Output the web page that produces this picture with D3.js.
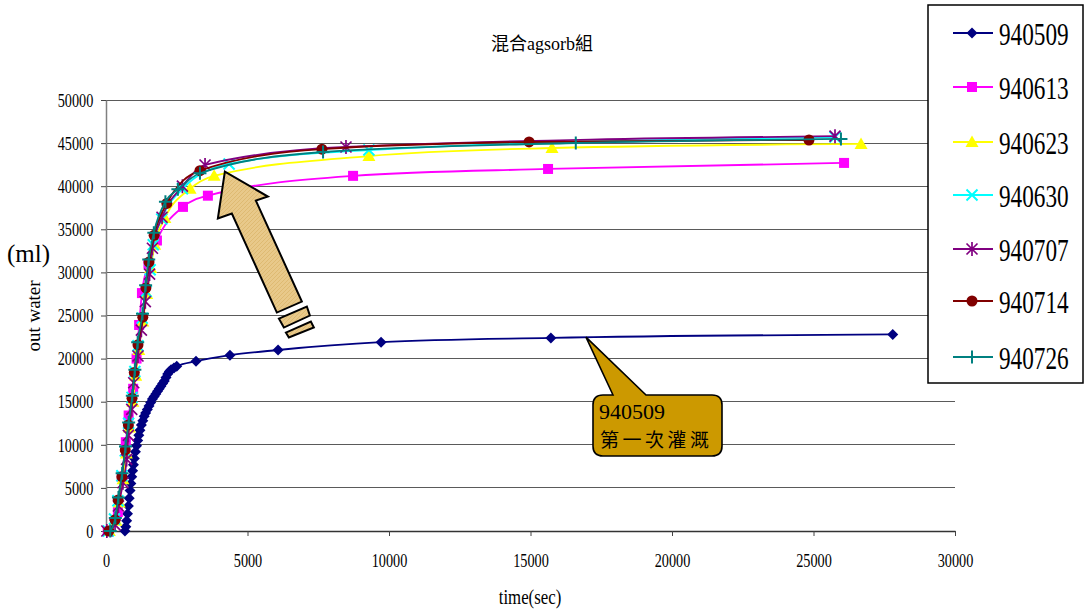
<!DOCTYPE html>
<html>
<head>
<meta charset="utf-8">
<script src="https://cdn.jsdelivr.net/npm/d3@7"></script>
<style>
html,body{margin:0;padding:0;background:#fff;}
svg{display:block;}
</style>
</head>
<body>
<svg id="chart" width="1088" height="611"></svg>
<script>
// ---------------- DATA ----------------
const chartTitle = "混合agsorb組";
const xTicks = [0, 5000, 10000, 15000, 20000, 25000, 30000];
const yTicks = [0, 5000, 10000, 15000, 20000, 25000, 30000, 35000, 40000, 45000, 50000];
const seriesNames = ["940509", "940613", "940623", "940630", "940707", "940714", "940726"];

const t940509 = [670,700,730,760,790,820,850,880,910,940,970,1000,1040,1080,1120,1160,1200,1250,1300,1350,1400,1460,1520,1580,1640,1700,1760,1820,1880,1940,2000,2060,2120,2180,2240,2300,2400,2500,3180,4380,6080,9720,15720,27800];
const v940509 = [0,500,1200,2000,2900,3800,4700,5500,6300,7000,7700,8400,9200,9900,10500,11100,11700,12300,12800,13300,13700,14100,14500,14900,15300,15600,15900,16200,16500,16800,17100,17400,17800,18200,18500,18700,18900,19100,19700,20400,21000,21900,22400,22800];

const t940613 = [60,420,560,700,800,960,1080,1170,1270,1500,1800,2720,3600,8730,15620,26080];
const v940613 = [0,2200,6300,10300,13400,16500,20000,23900,27600,31000,33700,37600,38900,41200,42000,42700];

const t940623 = [120,350,470,600,720,830,950,1050,1160,1300,1440,1580,1720,2080,2970,3820,9290,15760,26680];
const v940623 = [0,1200,3300,6000,9000,12000,15000,18000,21000,24300,27500,30500,33200,36300,39700,41200,43500,44430,44900];

const t940630 = [80,300,420,560,680,800,920,1020,1130,1280,1420,1560,1670,1970,2700,4350,9290,25760];
const v940630 = [0,1400,3500,6400,9300,12500,15500,18500,21500,24700,27800,30300,33200,36200,39700,42580,44200,45700];

const t940707 = [30,320,440,600,730,790,910,980,1130,1250,1390,1540,1640,1980,2700,3500,8480,25760];
const v940707 = [0,700,2900,5600,8300,11100,14100,17200,20300,23300,26600,29800,32800,36400,40000,42460,44550,45800];

const t940714 = [100,320,430,560,680,790,920,1000,1130,1300,1410,1520,1700,2150,3320,7630,14950,24840];
const v940714 = [0,1300,3600,6300,9400,12300,15400,18400,21600,24800,28200,31200,34300,38000,41800,44300,45130,45360];

const t940726 = [150,330,440,570,690,800,930,1020,1120,1290,1400,1510,1690,2100,2540,3320,7670,16600,25970];
const v940726 = [0,1500,3900,6700,9800,12600,15700,18700,21900,25200,28500,31500,34600,38200,39650,41500,43970,45010,45480];

const seriesColors = ["#000080", "#ff00ff", "#ffff00", "#00ffff", "#800080", "#800000", "#008080"];
const seriesMarkers = ["diamond", "square", "triangle", "xmark", "asterisk", "circle", "plus"];

const calloutLine1 = "940509";
const calloutLine2 = "第一次灌溉";
const calloutAnchor = [16960, 22500];
const arrowAnchor = [4200, 41700];

// ---------------- CHART ----------------
const svg = d3.select("#chart");
const serif = "'Liberation Serif','Times New Roman',serif";
const cjk = "'Liberation Serif','Noto Sans CJK TC','Noto Sans CJK SC',serif";

const x = d3.scaleLinear().domain([0, 30000]).range([106, 955]);
const y = d3.scaleLinear().domain([0, 50000]).range([531, 100]);

const times = [t940509, t940613, t940623, t940630, t940707, t940714, t940726];
const vals = [v940509, v940613, v940623, v940630, v940707, v940714, v940726];
const series = seriesNames.map((n, i) => ({
  name: n, color: seriesColors[i], marker: seriesMarkers[i],
  pts: times[i].map((t, j) => [t, vals[i][j]])
}));

// pattern for arrow
const defs = svg.append("defs");
const pat = defs.append("pattern").attr("id", "hatch").attr("patternUnits", "userSpaceOnUse")
  .attr("width", 4).attr("height", 4);
pat.append("rect").attr("width", 4).attr("height", 4).attr("fill", "#e8c98a");
pat.append("path").attr("d", "M0,4 L4,0").attr("stroke", "#dcb66c").attr("stroke-width", 0.8);

// title
svg.append("text").attr("x", 542).attr("y", 50).attr("text-anchor", "middle")
  .attr("font-family", cjk).attr("font-size", 18).attr("fill", "#000").text(chartTitle);

// gridlines
svg.append("g").selectAll("line").data(yTicks.filter(d => d > 0)).join("line")
  .attr("x1", x(0)).attr("x2", x(30000))
  .attr("y1", d => y(d)).attr("y2", d => y(d))
  .attr("stroke", "#5a5a5a").attr("stroke-width", 1).attr("shape-rendering", "crispEdges");

// y axis
const yAxis = svg.append("g").attr("transform", `translate(${x(0)},0)`)
  .call(d3.axisLeft(y).tickValues(yTicks).tickSize(5).tickSizeOuter(0).tickFormat(d3.format("d")));
yAxis.select(".domain").attr("stroke", "#808080").attr("stroke-width", 1.5);
yAxis.selectAll(".tick line").attr("stroke", "#444");
yAxis.selectAll(".tick text")
  .attr("font-family", serif).attr("font-size", 19).attr("fill", "#000")
  .attr("x", -17).attr("dy", "0.33em")
  .attr("transform", "scale(0.75,1)");

// x axis
const xAxis = svg.append("g").attr("transform", `translate(0,${y(0)})`)
  .call(d3.axisBottom(x).tickValues(xTicks).tickSize(5).tickSizeOuter(0).tickFormat(d3.format("d")));
xAxis.select(".domain").attr("stroke", "#333").attr("stroke-width", 1.5);
xAxis.selectAll(".tick line").attr("stroke", "#444");
xAxis.selectAll(".tick text")
  .attr("font-family", serif).attr("font-size", 19).attr("fill", "#000")
  .attr("y", 36).attr("dy", 0)
  .attr("transform", "scale(0.75,1)")
  .attr("x", 0);

// axis titles
svg.append("text").attr("transform", "translate(530,604) scale(0.8,1)").attr("text-anchor", "middle")
  .attr("font-family", serif).attr("font-size", 21).attr("fill", "#000").text("time(sec)");
svg.append("text").attr("transform", "translate(40,316) rotate(-90) scale(1,0.95)").attr("text-anchor", "middle")
  .attr("font-family", serif).attr("font-size", 19).attr("fill", "#000").text("out water");
svg.append("text").attr("x", 7).attr("y", 262)
  .attr("font-family", serif).attr("font-size", 25).attr("fill", "#000").text("(ml)");

// markers
function drawMarker(g, type, color) {
  switch (type) {
    case "diamond":
      g.append("path").attr("d", "M0,-5.5L5.5,0L0,5.5L-5.5,0Z").attr("fill", color); break;
    case "square":
      g.append("rect").attr("x", -5).attr("y", -5).attr("width", 10).attr("height", 10).attr("fill", color); break;
    case "triangle":
      g.append("path").attr("d", "M0,-6.5L6.5,5L-6.5,5Z").attr("fill", color); break;
    case "xmark":
      g.append("path").attr("d", "M-5.5,-5.5L5.5,5.5M-5.5,5.5L5.5,-5.5").attr("stroke", color).attr("stroke-width", 2).attr("fill", "none"); break;
    case "asterisk":
      g.append("path").attr("d", "M-5.5,-5.5L5.5,5.5M-5.5,5.5L5.5,-5.5M0,-7L0,7").attr("stroke", color).attr("stroke-width", 1.7).attr("fill", "none"); break;
    case "circle":
      g.append("circle").attr("r", 5.5).attr("fill", color); break;
    case "plus":
      g.append("path").attr("d", "M-6.5,0L6.5,0M0,-6.5L0,6.5").attr("stroke", color).attr("stroke-width", 2).attr("fill", "none"); break;
  }
}

const line = d3.line().x(d => x(d[0])).y(d => y(d[1])).curve(d3.curveMonotoneX);
const plot = svg.append("g");
series.forEach(s => {
  const g = plot.append("g");
  g.append("path").datum(s.pts).attr("d", line).attr("fill", "none")
    .attr("stroke", s.color).attr("stroke-width", 1.8);
  g.selectAll("g.m").data(s.pts).join("g").attr("class", "m")
    .attr("transform", d => `translate(${x(d[0])},${y(d[1])})`)
    .each(function () { drawMarker(d3.select(this), s.marker, s.color); });
});

// block arrow annotation (tip anchored via scales)
const ax = x(arrowAnchor[0]), ay = y(arrowAnchor[1]);
const arrowPts = [[0,0],[-7,47],[7,42],[52,141],[77,130],[31,29],[43,25]];
svg.append("path")
  .attr("d", "M" + arrowPts.map(p => [ax + p[0], ay + p[1]].join(",")).join("L") + "Z")
  .attr("fill", "url(#hatch)").attr("stroke", "#000").attr("stroke-width", 2).attr("stroke-linejoin", "miter");
const rect1 = [[54,147],[82,135],[85,144],[59,156]];
const rect2 = [[61,161],[86,150],[89,156],[64,166]];
[rect1, rect2].forEach(r => {
  svg.append("path")
    .attr("d", "M" + r.map(p => [ax + p[0], ay + p[1]].join(",")).join("L") + "Z")
    .attr("fill", "url(#hatch)").attr("stroke", "#000").attr("stroke-width", 2);
});

// callout annotation
const cx = x(calloutAnchor[0]), cy = y(calloutAnchor[1]);
const bx0 = 593, by0 = 395, bx1 = 722, by1 = 456, r = 10;
const callPath = `M${bx0 + 20},${by0} L${cx},${cy} L${bx0 + 53},${by0} L${bx1 - r},${by0} Q${bx1},${by0} ${bx1},${by0 + r}
 L${bx1},${by1 - r} Q${bx1},${by1} ${bx1 - r},${by1} L${bx0 + r},${by1} Q${bx0},${by1} ${bx0},${by1 - r}
 L${bx0},${by0 + r} Q${bx0},${by0} ${bx0 + r},${by0} Z`;
svg.append("path").attr("d", callPath).attr("fill", "#cc9900").attr("stroke", "#000").attr("stroke-width", 1.6);
svg.append("text").attr("x", 599).attr("y", 419).attr("font-family", serif).attr("font-size", 22)
  .attr("fill", "#000").text(calloutLine1);
svg.append("text").attr("x", 600).attr("y", 447).attr("font-family", cjk).attr("font-size", 19)
  .attr("letter-spacing", 3.5).attr("fill", "#000").text(calloutLine2);

// legend
const lg = svg.append("g");
lg.append("rect").attr("x", 928).attr("y", 5).attr("width", 155).attr("height", 378)
  .attr("fill", "#fff").attr("stroke", "#000").attr("stroke-width", 1.5);
const legY = [33, 87, 142, 195, 249, 301, 357];
series.forEach((s, i) => {
  const gy = legY[i];
  const g = lg.append("g");
  g.append("line").attr("x1", 953).attr("x2", 993).attr("y1", gy).attr("y2", gy)
    .attr("stroke", s.color).attr("stroke-width", 2);
  const mg = g.append("g").attr("transform", `translate(972,${gy})`);
  drawMarker(mg, s.marker, s.color);
  g.append("text").attr("transform", `translate(999,${gy + 12}) scale(0.75,1)`)
    .attr("font-family", serif).attr("font-size", 31).attr("fill", "#000").text(s.name);
});
</script>
</body>
</html>
